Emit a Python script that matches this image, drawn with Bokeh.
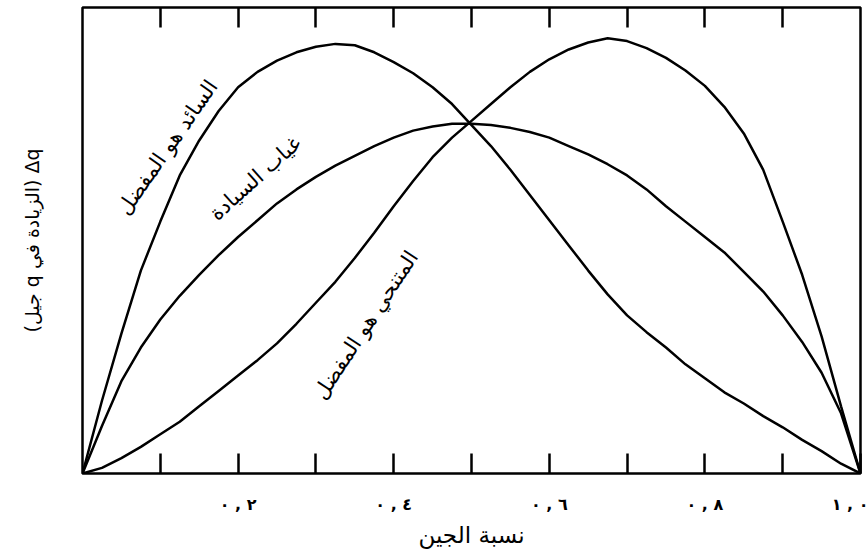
from bokeh.plotting import figure
from bokeh.models import Range1d, FixedTicker, LinearAxis
from bokeh.core.properties import value
from bokeh.embed import file_html
from bokeh.resources import INLINE

# gene frequency q
gene_freq = [0.0, 0.025, 0.05, 0.075, 0.10, 0.125, 0.15, 0.175, 0.20, 0.225,
             0.25, 0.275, 0.30, 0.325, 0.35, 0.375, 0.40, 0.425, 0.45, 0.475,
             0.50, 0.525, 0.55, 0.575, 0.60, 0.625, 0.65, 0.675, 0.70, 0.725,
             0.75, 0.775, 0.80, 0.825, 0.85, 0.875, 0.90, 0.925, 0.95, 0.975, 1.0]

# change in q per generation, dominant allele favoured
dominant_favoured = [0.0, 0.052, 0.100, 0.145, 0.180, 0.213, 0.238, 0.259, 0.276, 0.287,
                     0.295, 0.301, 0.305, 0.307, 0.306, 0.301, 0.294, 0.286, 0.276, 0.264,
                     0.249, 0.234, 0.217, 0.199, 0.181, 0.163, 0.145, 0.128, 0.113, 0.101,
                     0.090, 0.078, 0.068, 0.058, 0.050, 0.041, 0.033, 0.024, 0.016, 0.007, 0.0]

# no dominance
no_dominance = [0.0, 0.034, 0.066, 0.090, 0.110, 0.127, 0.142, 0.156, 0.169, 0.181,
                0.193, 0.203, 0.212, 0.220, 0.227, 0.234, 0.240, 0.245, 0.248, 0.250,
                0.250, 0.249, 0.247, 0.244, 0.240, 0.234, 0.228, 0.221, 0.213, 0.203,
                0.191, 0.180, 0.169, 0.158, 0.144, 0.130, 0.113, 0.094, 0.072, 0.043, 0.0]

# recessive allele favoured
recessive_favoured = [0.0, 0.004, 0.011, 0.019, 0.028, 0.037, 0.048, 0.059, 0.070, 0.081,
                      0.093, 0.107, 0.122, 0.137, 0.154, 0.172, 0.191, 0.209, 0.226, 0.240,
                      0.252, 0.264, 0.276, 0.287, 0.296, 0.303, 0.308, 0.311, 0.309, 0.304,
                      0.297, 0.288, 0.277, 0.262, 0.243, 0.217, 0.180, 0.142, 0.098, 0.048, 0.0]

curve_names = ["السائد هو المفضل", "غياب السيادة", "المتنحي هو المفضل"]

tick_values = [0.1, 0.2, 0.3, 0.4, 0.5, 0.6, 0.7, 0.8, 0.9, 1.0]
tick_text = ["", "٠\u200e , \u200e٢", "", "٠\u200e , \u200e٤", "", "٠\u200e , \u200e٦",
             "", "٠\u200e , \u200e٨", "", "١\u200e , \u200e٠"]

x_title = "نسبة الجين"
y_title = "\u202bΔq (الزيادة في q جيل)\u202c"

ARABIC = "DejaVu Sans"

p = figure(width=868, height=555, output_backend="svg", toolbar_location=None,
           x_range=Range1d(0, 1), y_range=Range1d(0, 0.333),
           min_border_left=82, min_border_right=8, min_border_top=7, min_border_bottom=82)
p.background_fill_color = "white"
p.border_fill_color = "white"
p.grid.visible = False
p.outline_line_color = "black"
p.outline_line_width = 2.5

# bottom axis: inward ticks, Arabic-Indic labels
ax = p.xaxis[0]
ax.ticker = FixedTicker(ticks=tick_values)
ax.major_label_overrides = dict(zip(tick_values, tick_text))
ax.axis_line_color = None
ax.major_tick_in = 20
ax.major_tick_out = 0
ax.major_tick_line_width = 2.5
ax.major_tick_line_color = "black"
ax.minor_tick_line_color = None
ax.major_label_standoff = 21
ax.major_label_text_font = ARABIC
ax.major_label_text_font_size = "16px"
ax.major_label_text_font_style = "bold"
ax.major_label_text_color = "black"
ax.axis_label = x_title
ax.axis_label_text_font = ARABIC
ax.axis_label_text_font_size = "23px"
ax.axis_label_text_font_style = "normal"
ax.axis_label_text_color = "black"
ax.axis_label_standoff = 5

# top axis mirrors the inward ticks, no labels
top = LinearAxis(ticker=FixedTicker(ticks=tick_values[:-1]))
top.major_label_overrides = {t: "" for t in tick_values[:-1]}
top.major_label_text_font_size = "0px"
top.major_label_standoff = 0
top.axis_line_color = None
top.major_tick_in = 20
top.major_tick_out = 0
top.major_tick_line_width = 2.5
top.major_tick_line_color = "black"
top.minor_tick_line_color = None
p.add_layout(top, "above")

# left axis carries only the title
ly = p.yaxis[0]
ly.ticker = FixedTicker(ticks=[])
ly.axis_line_color = None
ly.major_tick_line_color = None
ly.minor_tick_line_color = None
ly.major_label_text_font_size = "0px"
ly.major_label_standoff = 0
ly.axis_label = y_title
ly.axis_label_text_font = ARABIC
ly.axis_label_text_font_size = "19px"
ly.axis_label_text_font_style = "normal"
ly.axis_label_text_color = "black"
ly.axis_label_standoff = 40

for ys in (dominant_favoured, no_dominance, recessive_favoured):
    p.line(gene_freq, ys, line_color="black", line_width=2.5)

# curve captions laid along the curves
cap_x = [0.109, 0.222, 0.364]
cap_y = [0.233, 0.211, 0.106]
cap_angle = [0.96, 0.73, 0.99]
p.text(x=cap_x, y=cap_y, text=curve_names, angle=cap_angle,
       text_align="center", text_baseline="middle",
       text_font=value(ARABIC), text_font_size="21px", text_color="black")

open("out.html", "w").write(file_html(p, INLINE))
